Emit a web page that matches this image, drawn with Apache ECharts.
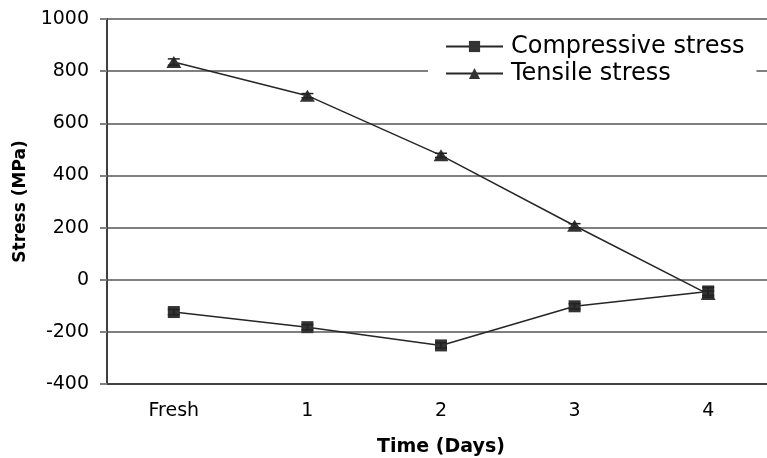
<!DOCTYPE html>
<html><head><meta charset="utf-8">
<script src="https://cdn.jsdelivr.net/npm/echarts@6/dist/echarts.min.js"></script>
<style>html,body{margin:0;padding:0;background:#fff;overflow:hidden}#c{width:767px;height:458px}</style>
</head><body><div id="c"></div>
<script>
var categories = ['Fresh', '1', '2', '3', '4'];
var compressive = [-124, -182, -252, -102, -45];
var compressiveErr = [10, 10, 10, 10, 15];
var tensile = [835, 706, 477, 207, -55];
var tensileErr = [12, 8, 8, 8, 12];
var yTicks = [-400, -200, 0, 200, 400, 600, 800, 1000];

function errData(vals, errs) {
  return vals.map(function (v, i) { return [i, v - errs[i], v + errs[i]]; });
}
function errRender(params, api) {
  var x = api.value(0);
  var lo = api.coord([x, api.value(1)]);
  var hi = api.coord([x, api.value(2)]);
  var w = 6;
  var st = { stroke: '#222', lineWidth: 1.5 };
  return { type: 'group', children: [
    { type: 'line', shape: { x1: lo[0], y1: lo[1], x2: hi[0], y2: hi[1] }, style: st },
    { type: 'line', shape: { x1: lo[0] - w, y1: lo[1], x2: lo[0] + w, y2: lo[1] }, style: st },
    { type: 'line', shape: { x1: hi[0] - w, y1: hi[1], x2: hi[0] + w, y2: hi[1] }, style: st }
  ]};
}

var FONT = '"DejaVu Sans", Arial, sans-serif';
var chart = echarts.init(document.getElementById('c'), null, { width: 767, height: 458 });
chart.setOption({
  animation: false,
  backgroundColor: '#fff',
  textStyle: { fontFamily: FONT },
  grid: { left: 107, width: 668, top: 19, height: 365, containLabel: false, outerBoundsMode: 'none' },
  legend: {
    left: 428, top: 31, orient: 'vertical', itemGap: 2,
    backgroundColor: '#fff', padding: [3, 12, 3, 17],
    itemWidth: 57, itemHeight: 14,
    textStyle: { fontSize: 24, lineHeight: 25, color: '#000', fontFamily: FONT, padding: [0, 0, 0, 3] },
    data: ['Compressive stress', 'Tensile stress']
  },
  xAxis: {
    type: 'category', data: categories, boundaryGap: true,
    name: 'Time (Days)', nameLocation: 'middle', nameGap: 54,
    nameTextStyle: { fontSize: 19, fontWeight: 'bold', color: '#000' },
    axisLine: { onZero: false, lineStyle: { color: '#404040', width: 2 } },
    axisTick: { show: false },
    axisLabel: { fontSize: 19, color: '#000', margin: 18 },
    splitLine: { show: false }
  },
  yAxis: {
    type: 'value', min: -400, max: 1000, interval: 200,
    name: 'Stress (MPa)', nameLocation: 'middle', nameGap: 78,
    nameTextStyle: { fontSize: 17, fontWeight: 'bold', color: '#000' },
    axisLine: { show: true, onZero: false, lineStyle: { color: '#404040', width: 2 } },
    axisTick: { show: true, length: 7, inside: false, lineStyle: { color: '#808080', width: 2 } },
    axisLabel: { fontSize: 19, color: '#000', margin: 18,
      formatter: function (v) { return yTicks.indexOf(v) >= 0 ? String(v) : ''; } },
    splitLine: { show: true, lineStyle: { color: '#808080', width: 2 } }
  },
  series: [
    { name: 'Compressive stress', type: 'line', data: compressive, symbol: 'rect', symbolSize: 12,
      lineStyle: { color: '#262626', width: 1.5 }, itemStyle: { color: '#333' }, z: 3 },
    { name: 'Tensile stress', type: 'line', data: tensile, symbol: 'triangle', symbolSize: [15, 12],
      lineStyle: { color: '#262626', width: 1.5 }, itemStyle: { color: '#333' }, z: 3 },
    { name: 'cErr', type: 'custom', renderItem: errRender, data: errData(compressive, compressiveErr), z: 4, silent: true },
    { name: 'tErr', type: 'custom', renderItem: errRender, data: errData(tensile, tensileErr), z: 4, silent: true }
  ]
});
</script></body></html>
